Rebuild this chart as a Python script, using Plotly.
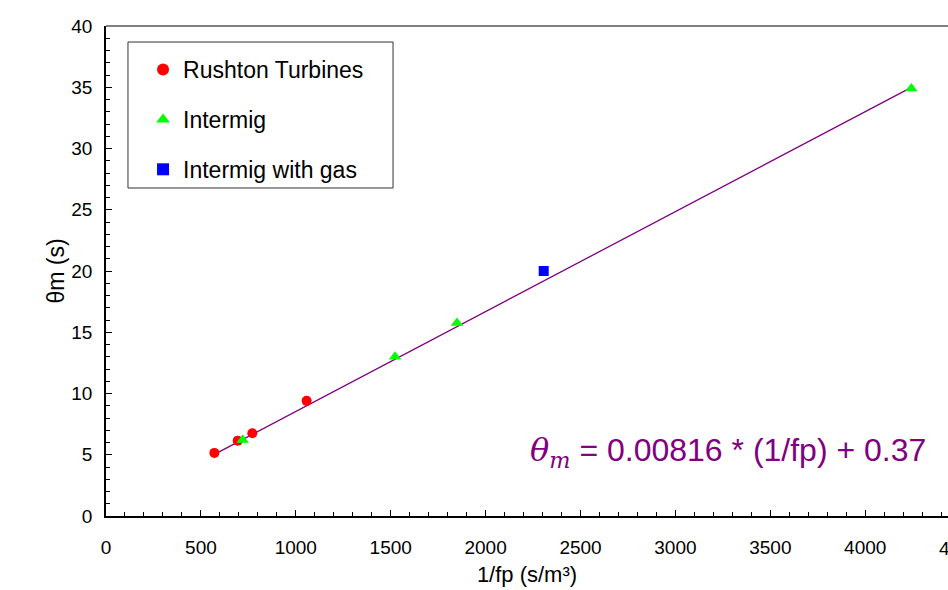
import plotly.graph_objects as go

# Mixing time vs. reciprocal pumping capacity
rushton_x = [571, 694, 771, 1057]
rushton_y = [5.15, 6.15, 6.75, 9.4]

intermig_x = [720, 1523, 1849, 4243]
intermig_y = [6.2, 13.0, 15.75, 34.9]

gas_x = [2306]
gas_y = [20.0]

# Linear fit: theta_m = slope * (1/fp) + intercept
slope = 0.00816
intercept = 0.37

x_ticks = [0, 500, 1000, 1500, 2000, 2500, 3000, 3500, 4000, 4500]
y_ticks = [0, 5, 10, 15, 20, 25, 30, 35, 40]
X_MAX = 4436
Y_MAX = 40

all_x = rushton_x + intermig_x + gas_x
fit_x = [min(all_x), max(all_x)]
fit_y = [slope * v + intercept for v in fit_x]

FONT = "Liberation Sans, Arial, sans-serif"
TICK_SIZE = 19
X_LABEL_GAP = 13

fig = go.Figure()
fig.add_trace(go.Scatter(
    x=fit_x, y=fit_y, mode="lines",
    line=dict(color="#800080", width=1.3),
    showlegend=False, hoverinfo="skip"))
fig.add_trace(go.Scatter(
    x=rushton_x, y=rushton_y, mode="markers", name="Rushton Turbines",
    legendgroup="a",
    marker=dict(symbol="circle", size=10, color="#ff0000")))
fig.add_trace(go.Scatter(
    x=intermig_x, y=intermig_y, mode="markers", name="Intermig",
    legendgroup="b",
    marker=dict(symbol="triangle-up", size=11, color="#00ff00")))
fig.add_trace(go.Scatter(
    x=gas_x, y=gas_y, mode="markers", name="Intermig with gas",
    legendgroup="c",
    marker=dict(symbol="square", size=10, color="#0000ff")))

axis_common = dict(
    showgrid=False, zeroline=False, showline=True,
    linecolor="black", linewidth=1.5,
    ticks="inside", ticklen=6, tickwidth=1, tickcolor="black",
    tickfont=dict(family=FONT, size=TICK_SIZE, color="black"),
)

fig.update_xaxes(
    range=[0, X_MAX], tickvals=x_ticks[:-1],
    ticktext=[str(v) for v in x_ticks[:-1]],
    ticklabelstandoff=X_LABEL_GAP,
    minor=dict(dtick=100, ticks="inside", ticklen=4, tickcolor="black"),
    title=dict(text="1/fp (s/m³)", font=dict(family=FONT, size=22, color="black"), standoff=10),
    **axis_common)
fig.update_yaxes(
    range=[0, Y_MAX], tickvals=y_ticks,
    ticklabelstandoff=8,
    minor=dict(dtick=1, ticks="inside", ticklen=4, tickcolor="black"),
    title=dict(text="θm (s)", font=dict(family=FONT, size=23, color="black"), standoff=0),
    **axis_common)

# Tick label that falls just past the right edge of the plotting area
fig.add_annotation(
    x=x_ticks[-1] / X_MAX, xref="paper", y=0, yref="paper",
    text=str(x_ticks[-1]), showarrow=False, xanchor="center", yanchor="top",
    yshift=-(X_LABEL_GAP + 7), font=dict(family=FONT, size=TICK_SIZE, color="black"))

# Top frame line
fig.add_shape(type="line", xref="paper", yref="paper", x0=0, x1=1, y0=1, y1=1,
              line=dict(color="#808080", width=2))

# Legend frame
fig.add_shape(type="rect", xref="paper", yref="paper",
              x0=0.0261, x1=0.3409, y0=0.6694, y1=0.9673,
              line=dict(color="#333333", width=1), fillcolor="white", layer="below")

fig.add_annotation(
    x=4330, y=5.2, xref="x", yref="y", xanchor="right", yanchor="middle",
    showarrow=False,
    text=("<span style=\"font-family:'DejaVu Serif'\"><i>θ<sub>m</sub></i></span>"
          f" = {slope} * (1/fp) + {intercept}"),
    font=dict(family=FONT, size=32, color="#800080"))

fig.update_layout(
    width=948, height=590,
    margin=dict(l=106, r=0, t=26, b=74),
    paper_bgcolor="white", plot_bgcolor="white",
    legend=dict(
        x=0.044, y=0.955, xanchor="left", yanchor="top",
        bgcolor="rgba(0,0,0,0)", borderwidth=0,
        font=dict(family=FONT, size=23, color="black"),
        tracegroupgap=17, itemsizing="constant", itemwidth=30,
    ),
)

fig.write_html("out.html")
